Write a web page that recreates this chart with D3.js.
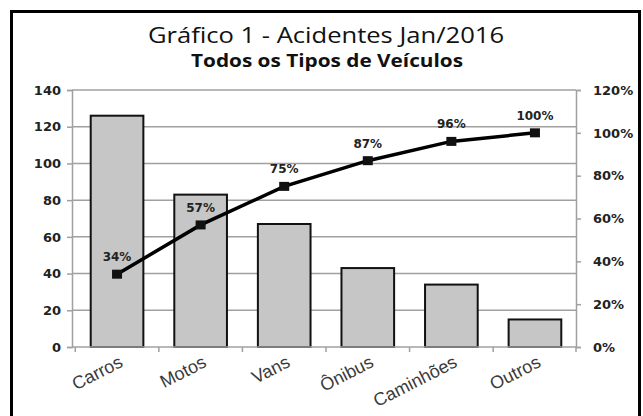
<!DOCTYPE html>
<html><head><meta charset="utf-8">
<script src="https://cdn.jsdelivr.net/npm/d3@7"></script>
<style>body{margin:0;background:#fff}svg{display:block}</style>
</head><body>
<svg id="c" width="643" height="416"></svg>
<script>
const categories = ["Carros","Motos","Vans","Ônibus","Caminhões","Outros"];
const accidents = [126, 83, 67, 43, 34, 15];
const cumulative = [0.34, 0.57, 0.75, 0.87, 0.96, 1.00];
const leftTicks = [0,20,40,60,80,100,120,140];
const rightTicks = [0,0.2,0.4,0.6,0.8,1.0,1.2];
const title = "Gráfico 1 - Acidentes Jan/2016";
const subtitle = "Todos os Tipos de Veículos";

const svg = d3.select("#c");
const L = 72, R = 576, T = 90, B = 347;

svg.append("rect").attr("x",11.5).attr("y",11.5).attr("width",628).attr("height",430)
  .attr("fill","#fff").attr("stroke","#000").attr("stroke-width",3);

svg.append("text").attr("x",326).attr("y",43).attr("text-anchor","middle")
  .attr("font-family","Open Sans").attr("font-size",22).attr("fill","#111")
  .attr("textLength",356).attr("lengthAdjust","spacingAndGlyphs").text(title);
svg.append("text").attr("x",327).attr("y",67).attr("text-anchor","middle")
  .attr("font-family","Open Sans").attr("font-weight","bold").attr("font-size",17).attr("fill","#111")
  .attr("textLength",272).attr("lengthAdjust","spacingAndGlyphs").text(subtitle);

const x = d3.scaleBand().domain(categories).range([L,R]).paddingInner(0.37).paddingOuter(0.2);
const y = d3.scaleLinear().domain([0,140]).range([B,T]);
const y2 = d3.scaleLinear().domain([0,1.2]).range([B,T]);

// gridlines
svg.append("g").selectAll("line").data(leftTicks.filter(d=>d>0)).join("line")
  .attr("x1",L).attr("x2",R).attr("y1",d=>y(d)).attr("y2",d=>y(d))
  .attr("stroke","#a0a0a0").attr("stroke-width",1.5);

// bars
svg.append("g").selectAll("rect").data(accidents).join("rect")
  .attr("x",(d,i)=>x(categories[i])+2).attr("width",x.bandwidth())
  .attr("y",d=>y(d)).attr("height",d=>B-y(d))
  .attr("fill","#c6c6c6").attr("stroke","#111").attr("stroke-width",2);

// axes
const gl = svg.append("g").attr("transform",`translate(${L},0)`)
  .call(d3.axisLeft(y).tickValues(leftTicks).tickSize(5).tickPadding(6));
const gr = svg.append("g").attr("transform",`translate(${R},0)`)
  .call(d3.axisRight(y2).tickValues(rightTicks).tickSize(5).tickPadding(12).tickFormat(d3.format(".0%")));
[gl,gr].forEach(g=>{
  g.select(".domain").attr("stroke","#a0a0a0").attr("stroke-width",1.5);
  g.selectAll(".tick line").attr("stroke","#a0a0a0").attr("stroke-width",1.5);
  g.selectAll("text").attr("font-family","DejaVu Sans").attr("font-weight","bold")
    .attr("font-size",13).attr("fill","#222");
});

// x axis
const gx = svg.append("g");
gx.append("line").attr("x1",L).attr("x2",R).attr("y1",B).attr("y2",B)
  .attr("stroke","#a0a0a0").attr("stroke-width",1.5);
const bounds = categories.map(c=>x(c) - x.step()*x.paddingInner()/2 + 2).concat([R]);
gx.selectAll("line.t").data(bounds).join("line").attr("class","t")
  .attr("x1",d=>d).attr("x2",d=>d).attr("y1",B).attr("y2",B+5)
  .attr("stroke","#a0a0a0").attr("stroke-width",1.5);
gx.selectAll("text").data(categories).join("text")
  .attr("transform",d=>`translate(${x(d)+x.bandwidth()/2+9},${B+19}) rotate(-27)`)
  .attr("text-anchor","end").attr("font-family","Liberation Sans").attr("font-size",18)
  .attr("fill","#3a3a3a").text(d=>d);

// pareto line
const cx = (d,i)=>x(categories[i])+2+x.bandwidth()/2;
svg.append("path").datum(cumulative)
  .attr("d",d3.line().x(cx).y(d=>y2(d)))
  .attr("fill","none").attr("stroke","#000").attr("stroke-width",3.5);
svg.append("g").selectAll("rect").data(cumulative).join("rect")
  .attr("x",(d,i)=>cx(d,i)-5).attr("y",d=>y2(d)-4.5).attr("width",10).attr("height",9)
  .attr("fill","#111");
svg.append("g").selectAll("text").data(cumulative).join("text")
  .attr("x",cx).attr("y",d=>y2(d)-13).attr("text-anchor","middle")
  .attr("font-family","DejaVu Sans").attr("font-weight","bold").attr("font-size",12)
  .attr("fill","#222").text(d=>d3.format(".0%")(d));
</script>
</body></html>
